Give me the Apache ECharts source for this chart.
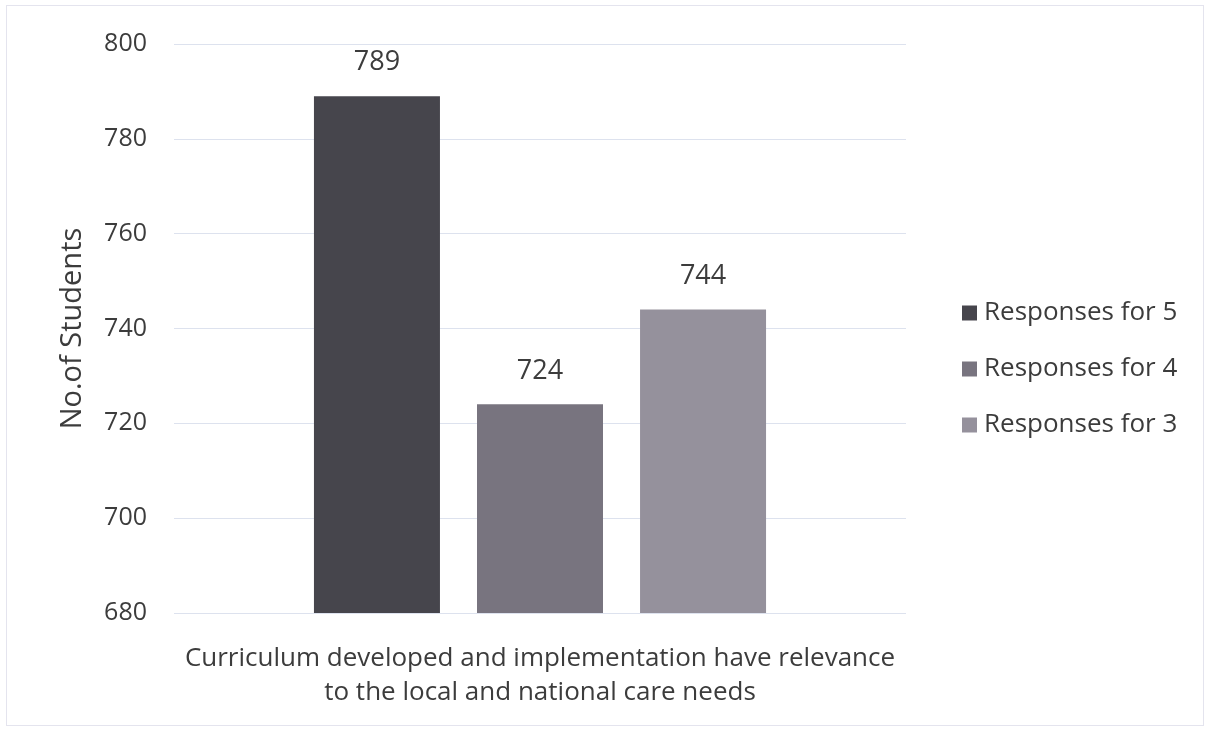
<!DOCTYPE html>
<html>
<head>
<meta charset="utf-8">
<script src="https://cdn.jsdelivr.net/npm/echarts@6/dist/echarts.min.js"></script>
<style>
html,body{margin:0;padding:0;background:#fff;}
#frame{position:absolute;left:6px;top:5px;width:1198px;height:721px;border:1px solid #e4e4ee;box-sizing:border-box;}
#chart{position:absolute;left:0;top:0;width:1208px;height:729px;}
</style>
</head>
<body>
<div id="frame"></div>
<div id="chart"></div>
<script>
const categories = ["Curriculum developed and implementation have relevance\nto the local and national care needs"];
const seriesNames = ["Responses for 5", "Responses for 4", "Responses for 3"];
const responses5 = [789];
const responses4 = [724];
const responses3 = [744];
const yTicks = [680, 700, 720, 740, 760, 780, 800];

const colors = ["#46454c", "#78747f", "#95919c"];
const font = "Open Sans";
const txt = '#3c3c3c';
const chart = echarts.init(document.getElementById('chart'), null, {renderer: 'canvas'});
const data = [responses5, responses4, responses3];
chart.setOption({
  backgroundColor: 'transparent',
  animation: false,
  textStyle: {fontFamily: font},
  grid: {left: 174, right: 302, top: 44, bottom: 116, containLabel: false},
  legend: {
    orient: 'vertical',
    left: 957, top: 295,
    itemWidth: 15, itemHeight: 15, itemGap: 30,
    icon: 'rect',
    textStyle: {fontFamily: font, fontSize: 26, lineHeight: 26, color: txt, padding: [0,0,0,2]},
    data: seriesNames
  },
  xAxis: {
    type: 'category',
    data: categories,
    axisLine: {show: false},
    axisTick: {show: false},
    axisLabel: {fontFamily: font, fontSize: 26, color: txt, lineHeight: 34, margin: 29}
  },
  yAxis: {
    type: 'value',
    min: yTicks[0], max: yTicks[yTicks.length-1], interval: 20,
    name: 'No.of Students',
    nameLocation: 'middle',
    nameGap: 87,
    nameTextStyle: {fontFamily: font, fontSize: 29, color: txt},
    axisLine: {show: false},
    axisTick: {show: false},
    axisLabel: {fontFamily: font, fontSize: 25, color: txt, margin: 27},
    splitLine: {lineStyle: {color: '#dde2ee', width: 1}}
  },
  series: data.map((d, i) => ({
    name: seriesNames[i],
    type: 'bar',
    data: d,
    barWidth: 126,
    barGap: '29.4%',
    itemStyle: {color: colors[i]},
    label: {show: true, position: 'top', distance: 20, fontFamily: font, fontSize: 27, color: txt}
  }))
});
</script>
</body>
</html>
